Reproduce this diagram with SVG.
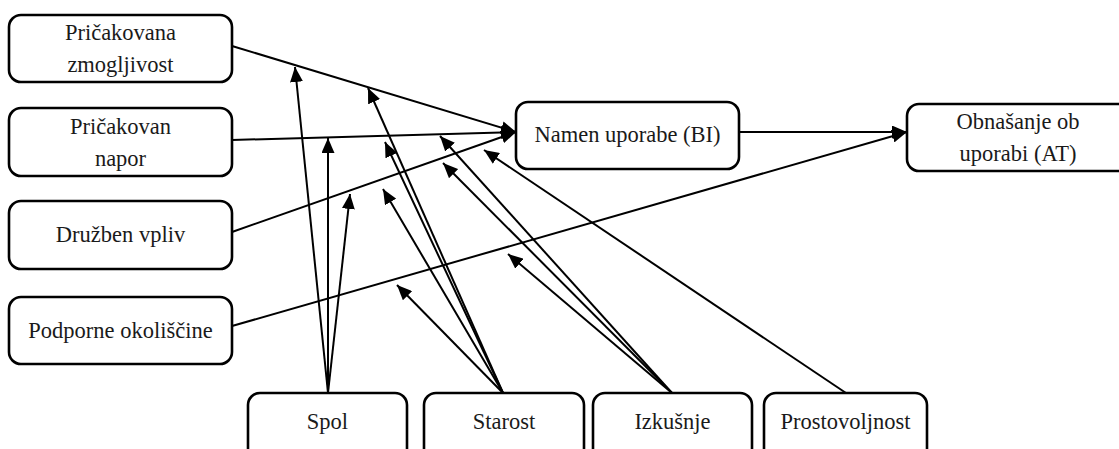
<svg xmlns="http://www.w3.org/2000/svg" width="1119" height="449" viewBox="0 0 1119 449">
  <defs>
    <marker id="ah" markerUnits="userSpaceOnUse" markerWidth="15" markerHeight="13" refX="15" refY="6.5" orient="auto">
      <path d="M0,0 L15,6.5 L0,13 z" fill="#000"/>
    </marker>
    <style>
      .box { fill: #fff; stroke: #000; stroke-width: 2.6; }
      .lbl { font-family: "Liberation Serif", "Times New Roman", serif; font-size: 22.5px; fill: #1a1a1a; text-anchor: middle; }
      .edge { stroke: #000; stroke-width: 2; fill: none; marker-end: url(#ah); }
    </style>
  </defs>
  <rect width="1119" height="449" fill="#fff"/>

  <!-- connectors -->
  <g id="connectors">
    <!-- main paths -->
    <line class="edge" x1="232" y1="46" x2="516" y2="132"/>
    <line class="edge" x1="232" y1="140" x2="516" y2="132"/>
    <line class="edge" x1="232" y1="232" x2="516" y2="132"/>
    <line class="edge" x1="232" y1="326" x2="907" y2="132"/>
    <line class="edge" x1="739" y1="132" x2="907" y2="132"/>
    <!-- Spol -->
    <line class="edge" x1="328" y1="393" x2="295" y2="67"/>
    <line class="edge" x1="328" y1="393" x2="328" y2="138"/>
    <line class="edge" x1="328" y1="393" x2="350" y2="194"/>
    <!-- Starost -->
    <line class="edge" x1="503" y1="393" x2="368" y2="88"/>
    <line class="edge" x1="503" y1="393" x2="385" y2="142"/>
    <line class="edge" x1="503" y1="393" x2="383" y2="189"/>
    <line class="edge" x1="503" y1="393" x2="397" y2="285"/>
    <!-- Izkušnje -->
    <line class="edge" x1="672" y1="393" x2="440" y2="136"/>
    <line class="edge" x1="672" y1="393" x2="443" y2="163"/>
    <line class="edge" x1="672" y1="393" x2="508" y2="254"/>
    <!-- Prostovoljnost -->
    <line class="edge" x1="846" y1="393" x2="484" y2="150"/>
  </g>

  <g id="pricakovana-zmogljivost">
    <rect class="box" x="9" y="15" width="223" height="67" rx="12"/>
    <text class="lbl" x="120.5" y="40">Pričakovana</text>
    <text class="lbl" x="120.5" y="72">zmogljivost</text>
  </g>
  <g id="pricakovan-napor">
    <rect class="box" x="9" y="108" width="223" height="68" rx="12"/>
    <text class="lbl" x="120.5" y="133.5">Pričakovan</text>
    <text class="lbl" x="120.5" y="165.5">napor</text>
  </g>
  <g id="druzben-vpliv">
    <rect class="box" x="9" y="201" width="223" height="68" rx="12"/>
    <text class="lbl" x="120.5" y="242">Družben vpliv</text>
  </g>
  <g id="podporne-okoliscine">
    <rect class="box" x="9" y="297" width="223" height="67" rx="12"/>
    <text class="lbl" x="120.5" y="338">Podporne okoliščine</text>
  </g>
  <g id="namen-uporabe">
    <rect class="box" x="516" y="102" width="223" height="67" rx="12"/>
    <text class="lbl" x="627.5" y="142">Namen uporabe (BI)</text>
  </g>
  <g id="obnasanje">
    <rect class="box" x="907" y="104" width="223" height="67" rx="12"/>
    <text class="lbl" x="1018" y="129">Obnašanje ob</text>
    <text class="lbl" x="1018" y="161">uporabi (AT)</text>
  </g>
  <g id="spol">
    <rect class="box" x="248" y="393" width="159" height="80" rx="12"/>
    <text class="lbl" x="327.5" y="429">Spol</text>
  </g>
  <g id="starost">
    <rect class="box" x="424" y="393" width="160" height="80" rx="12"/>
    <text class="lbl" x="504" y="429">Starost</text>
  </g>
  <g id="izkusnje">
    <rect class="box" x="593" y="393" width="159" height="80" rx="12"/>
    <text class="lbl" x="672.5" y="429">Izkušnje</text>
  </g>
  <g id="prostovoljnost">
    <rect class="box" x="764" y="393" width="163" height="80" rx="12"/>
    <text class="lbl" x="845.5" y="429">Prostovoljnost</text>
  </g>
</svg>
